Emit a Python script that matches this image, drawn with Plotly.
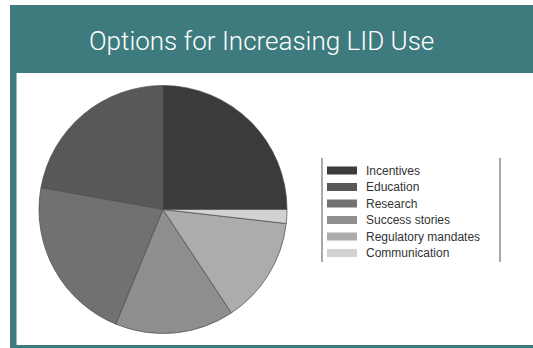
import plotly.graph_objects as go

W, H = 533, 348

title = "Options for Increasing LID Use"
labels = ["Incentives", "Education", "Research", "Success stories",
          "Regulatory mandates", "Communication"]
values = [25.0, 22.2, 21.6, 15.5, 13.9, 1.8]
colors = ["#3b3b3b", "#585858", "#717171", "#8e8e8e", "#acacac", "#d2d2d2"]

teal = "#3e7b7e"

def px(x):
    return x / W

def py(y):
    return 1 - y / H

cx, cy, r = 163, 209.5, 124

fig = go.Figure()
fig.add_trace(go.Pie(
    labels=labels, values=values, sort=False,
    direction="counterclockwise", rotation=0,
    marker=dict(colors=colors, line=dict(color="#4a4a4a", width=0.7)),
    textinfo="none", hoverinfo="label+percent", showlegend=False,
    domain=dict(x=[px(cx - r), px(cx + r)], y=[py(cy + r), py(cy - r)]),
))

shapes = []
# header band and frame
shapes.append(dict(type="rect", xref="paper", yref="paper", x0=px(10), x1=px(533),
                   y0=py(73), y1=py(5), fillcolor=teal, line=dict(width=0), layer="below"))
shapes.append(dict(type="rect", xref="paper", yref="paper", x0=px(10), x1=px(16.5),
                   y0=py(348), y1=py(5), fillcolor=teal, line=dict(width=0), layer="below"))
shapes.append(dict(type="rect", xref="paper", yref="paper", x0=px(10), x1=px(533),
                   y0=py(348), y1=py(345), fillcolor=teal, line=dict(width=0), layer="below"))

# legend box lines (left and right only)
for lx in (322, 500):
    shapes.append(dict(type="line", xref="paper", yref="paper", x0=px(lx), x1=px(lx),
                       y0=py(158), y1=py(262), line=dict(color="#555555", width=1)))

annotations = [dict(text=title, x=px(261.5), y=py(41), xref="paper", yref="paper",
                    showarrow=False, xanchor="center", yanchor="middle",
                    font=dict(family="Roboto, Liberation Sans, sans-serif",
                              size=26, weight=300, color="white"))]

row0, step = 170.5, 16.5
for i, (lab, col) in enumerate(zip(labels, colors)):
    yc = row0 + i * step
    shapes.append(dict(type="rect", xref="paper", yref="paper", x0=px(327), x1=px(357),
                       y0=py(yc + 4), y1=py(yc - 4), fillcolor=col, line=dict(width=0)))
    annotations.append(dict(text=lab, x=px(364), y=py(yc), xref="paper", yref="paper",
                            showarrow=False, xanchor="left", yanchor="middle",
                            font=dict(family="Liberation Sans, Arial, sans-serif",
                                      size=12, color="#333333")))

fig.update_layout(
    width=W, height=H, margin=dict(l=0, r=0, t=0, b=0),
    paper_bgcolor="white", plot_bgcolor="white",
    shapes=shapes, annotations=annotations,
)

fig.write_html("out.html")
